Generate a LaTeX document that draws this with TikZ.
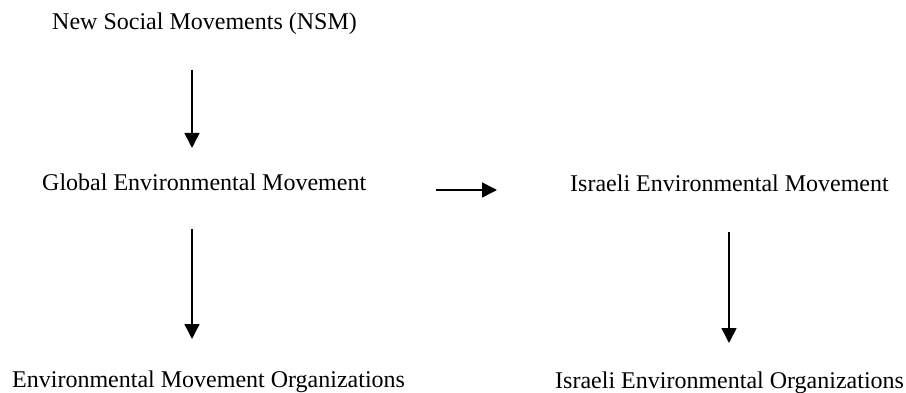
\documentclass[tikz,border=0pt]{standalone}
\usepackage{fontspec}
\setmainfont{Liberation Serif}
\usetikzlibrary{arrows.meta}
\begin{document}
\begin{tikzpicture}[x=1pt,y=-1pt,
  lbl/.style={inner sep=0pt,anchor=base west,font=\fontsize{24}{28}\selectfont},
  arr/.style={line width=1.6pt,-{Triangle[width=15pt,length=15pt]}}]
\useasboundingbox (0,0) rectangle (906,393);
\node[lbl] (nsm) at (52,29.5) {New Social Movements (NSM)};
\node[lbl] (gem) at (42,190.5) {Global Environmental Movement};
\node[lbl] (iem) at (570,191.5) {Israeli Environmental Movement};
\node[lbl] (emo) at (12,387.5) {Environmental Movement Organizations};
\node[lbl] (ieo) at (555,388) {Israeli Environmental Organizations};
\coordinate (a1s) at (192,70);
\coordinate (a1e) at (192,148);
\coordinate (a2s) at (192,229);
\coordinate (a2e) at (192,339);
\coordinate (a3s) at (436,190);
\coordinate (a3e) at (497,190);
\coordinate (a4s) at (729,232);
\coordinate (a4e) at (729,343);
\draw[arr] (a1s) -- (a1e);
\draw[arr] (a2s) -- (a2e);
\draw[arr] (a3s) -- (a3e);
\draw[arr] (a4s) -- (a4e);
\end{tikzpicture}
\end{document}
